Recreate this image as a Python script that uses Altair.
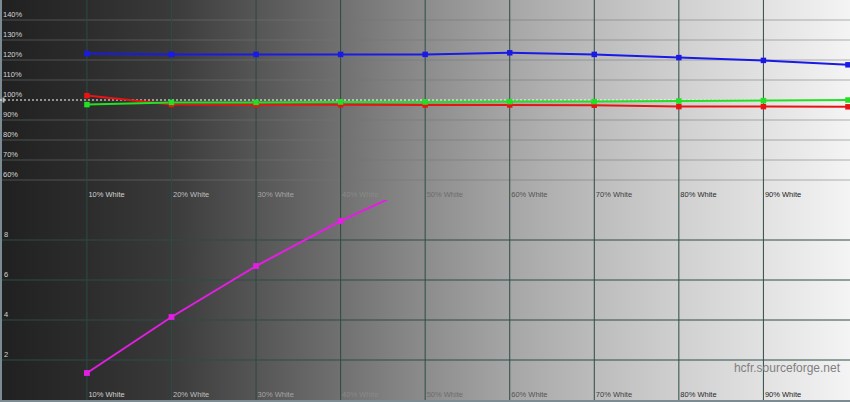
import altair as alt
import pandas as pd

# ---------------------------------------------------------------- data
levels = [10, 20, 30, 40, 50, 60, 70, 80, 90, 100]
red_pct = [102.2, 97.7, 97.6, 97.6, 97.5, 97.5, 97.4, 96.7, 96.7, 96.6]
green_pct = [97.7, 98.8, 98.8, 99.0, 99.0, 99.2, 99.2, 99.5, 99.7, 100.0]
blue_pct = [123.2, 122.8, 122.8, 122.8, 122.8, 123.6, 122.8, 121.2, 119.8, 117.6]

de_levels = [10, 20, 30, 40, 50]
delta_e = [1.35, 4.15, 6.7, 8.95, 10.9]

x_label_levels = [10, 20, 30, 40, 50, 60, 70, 80, 90]
x_labels = ["10% White", "20% White", "30% White", "40% White", "50% White",
            "60% White", "70% White", "80% White", "90% White"]
rgb_ticks = [140, 130, 120, 110, 100, 90, 80, 70, 60]
rgb_tick_labels = ["140%", "130%", "120%", "110%", "100%", "90%", "80%", "70%", "60%"]
de_ticks = [8, 6, 4, 2]
de_tick_labels = ["8", "6", "4", "2"]

# ---------------------------------------------------------------- styling
W, H = 850, 200
FONT = "Liberation Sans"
GRID = "#2c4c44"
X_SCALE = alt.Scale(domain=[-0.28, 100.24], nice=False, zero=False)
TOP_Y = alt.Scale(domain=[50, 150], nice=False, zero=False)
BOT_Y = alt.Scale(domain=[0, 10], nice=False, zero=False)

# grey ramp of the backdrop, left (dark) to right (light)
bg_stops = [(0.0, 0x20), (0.1, 0x2c), (0.2, 0x3a), (0.3, 0x55), (0.4, 0x70),
            (0.5, 0x8c), (0.6, 0xa6), (0.7, 0xbc), (0.8, 0xd0), (0.9, 0xe2),
            (1.0, 0xf4)]


def grey(v):
    v = max(0, min(255, int(round(v))))
    return "#{0:02x}{0:02x}{0:02x}".format(v)


def ramp_at(frac):
    for (o0, g0), (o1, g1) in zip(bg_stops[:-1], bg_stops[1:]):
        if o0 <= frac <= o1:
            return g0 + (g1 - g0) * (frac - o0) / (o1 - o0)
    return bg_stops[-1][1]


gradient = alt.Gradient(
    gradient="linear", x1=0, x2=1, y1=0, y2=0,
    stops=[alt.GradientStop(offset=o, color=grey(g)) for o, g in bg_stops],
)

# level labels are drawn in the inverse of the backdrop behind them
label_colors = []
for lv in x_label_levels:
    cx = 2.4 + 8.456 * lv + 18
    label_colors.append(grey(255 - ramp_at(cx / W)))

one = pd.DataFrame({"k": [0]})
lvl_df = pd.DataFrame({"level": x_label_levels, "label": x_labels})


def backdrop():
    return alt.Chart(one).mark_rect(fill=gradient, clip=True).encode(
        x=alt.value(0), x2=alt.value(W), y=alt.value(0), y2=alt.value(H)
    )


def edge():
    return alt.Chart(one).mark_rule(color="#7c8a92", strokeWidth=2, clip=True).encode(
        x=alt.value(1)
    )


def vgrid():
    return alt.Chart(lvl_df).mark_rule(color=GRID, strokeWidth=1, clip=True).encode(
        x=alt.X("level:Q", scale=X_SCALE, axis=None)
    )


def level_labels():
    return alt.Chart(lvl_df).mark_text(
        align="left", baseline="middle", dx=1.5, font=FONT, fontSize=7.5
    ).encode(
        x=alt.X("level:Q", scale=X_SCALE, axis=None),
        y=alt.value(195),
        text="label:N",
        fill=alt.Fill("label:N", scale=alt.Scale(domain=x_labels, range=label_colors), legend=None),
    )


# ---------------------------------------------------------------- top: RGB levels
rgb_df = pd.DataFrame({
    "level": levels * 3,
    "value": red_pct + green_pct + blue_pct,
    "series": ["Red"] * 10 + ["Green"] * 10 + ["Blue"] * 10,
})
series_color = alt.Color(
    "series:N",
    scale=alt.Scale(domain=["Red", "Green", "Blue"], range=["#e81414", "#22e022", "#1a1ae6"]),
    legend=None,
)

top_grid_df = pd.DataFrame({"v": [t for t in rgb_ticks if t != 100]})
top_lbl_df = pd.DataFrame({"v": rgb_ticks, "label": rgb_tick_labels})

top_hgrid = alt.Chart(top_grid_df).mark_rule(
    color="#6e7a76", opacity=0.55, strokeWidth=1, clip=True
).encode(y=alt.Y("v:Q", scale=TOP_Y, axis=None))
ref_line = alt.Chart(pd.DataFrame({"v": [100]})).mark_rule(
    color="white", strokeWidth=1, strokeDash=[2, 2], clip=True
).encode(y=alt.Y("v:Q", scale=TOP_Y, axis=None))
ref_tick = alt.Chart(pd.DataFrame({"v": [100]})).mark_tick(
    color="white", orient="vertical", size=5, thickness=2
).encode(x=alt.value(3.5), y=alt.Y("v:Q", scale=TOP_Y, axis=None))

top_ylabels = alt.Chart(top_lbl_df).mark_text(
    align="left", baseline="middle", dy=-5, font=FONT, fontSize=7.5, color="#d4d4d4"
).encode(x=alt.value(3), y=alt.Y("v:Q", scale=TOP_Y, axis=None), text="label:N")

rgb_lines = alt.Chart(rgb_df).mark_line(strokeWidth=2, clip=True).encode(
    x=alt.X("level:Q", scale=X_SCALE, axis=None),
    y=alt.Y("value:Q", scale=TOP_Y, axis=None),
    color=series_color,
)
rgb_points = alt.Chart(rgb_df).mark_square(size=30, opacity=1, clip=True).encode(
    x=alt.X("level:Q", scale=X_SCALE, axis=None),
    y=alt.Y("value:Q", scale=TOP_Y, axis=None),
    color=series_color,
)

top = alt.layer(
    backdrop(), top_hgrid, vgrid(), edge(), ref_line, ref_tick,
    top_ylabels, level_labels(), rgb_lines, rgb_points,
).resolve_scale(color="independent", fill="independent").properties(width=W, height=H)

# ---------------------------------------------------------------- bottom: delta E
de_df = pd.DataFrame({"level": de_levels, "dE": delta_e})
bot_lbl_df = pd.DataFrame({"v": de_ticks, "label": de_tick_labels})

bot_hgrid = alt.Chart(bot_lbl_df).mark_rule(color=GRID, strokeWidth=1, clip=True).encode(
    y=alt.Y("v:Q", scale=BOT_Y, axis=None)
)
bot_ylabels = alt.Chart(bot_lbl_df).mark_text(
    align="left", baseline="middle", dy=-5, font=FONT, fontSize=7.5, color="#d4d4d4"
).encode(x=alt.value(4), y=alt.Y("v:Q", scale=BOT_Y, axis=None), text="label:N")

de_line = alt.Chart(de_df).mark_line(strokeWidth=2, color="#e31ee3", clip=True).encode(
    x=alt.X("level:Q", scale=X_SCALE, axis=None),
    y=alt.Y("dE:Q", scale=BOT_Y, axis=None),
)
de_points = alt.Chart(de_df).mark_square(size=34, opacity=1, color="#e31ee3", clip=True).encode(
    x=alt.X("level:Q", scale=X_SCALE, axis=None),
    y=alt.Y("dE:Q", scale=BOT_Y, axis=None),
)
watermark = alt.Chart(one).mark_text(
    text="hcfr.sourceforge.net", align="right", baseline="middle",
    font=FONT, fontSize=12, color="#808080",
).encode(x=alt.value(840), y=alt.value(168))

bottom = alt.layer(
    backdrop(), bot_hgrid, vgrid(), edge(), bot_ylabels, level_labels(),
    watermark, de_line, de_points,
).properties(width=W, height=H)

chart = alt.vconcat(top, bottom, spacing=0).properties(
    padding={"left": 0, "right": 0, "top": 0, "bottom": 2},
    background="#7c8a92",
).configure_view(stroke=None)

chart.save("out.html", embed_options={"renderer": "svg", "actions": False})
